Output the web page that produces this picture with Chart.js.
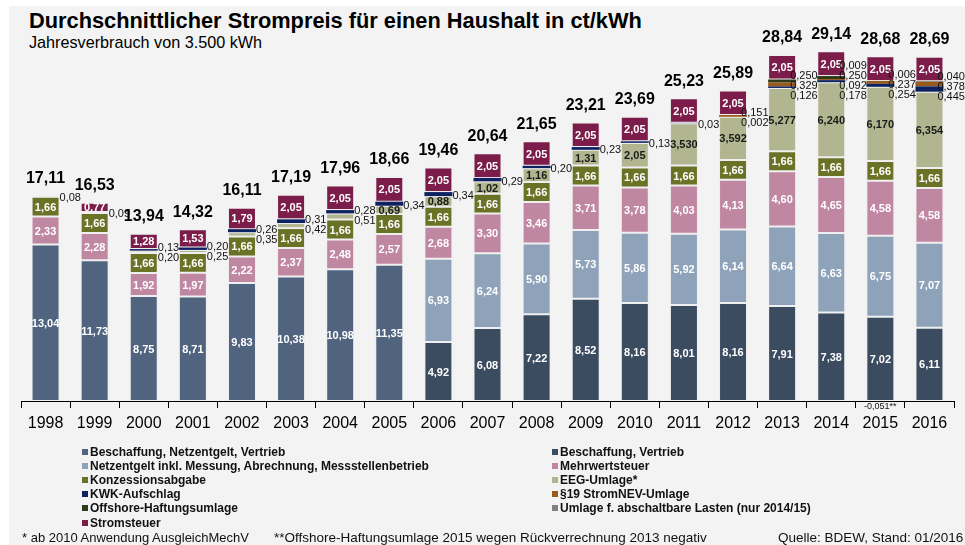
<!DOCTYPE html>
<html>
<head>
<meta charset="utf-8">
<script src="https://cdn.jsdelivr.net/npm/chart.js@4.4.1/dist/chart.umd.min.js"></script>
<style>
  html, body { margin:0; padding:0; background:#ffffff; width:965px; height:545px; overflow:hidden; font-family:"Liberation Sans", Arial, sans-serif; }
  #panel { position:absolute; left:9px; top:6px; width:956px; height:539px; background:#f3f3f3; }
  #c { position:absolute; left:0; top:0; }
  .t { position:absolute; white-space:nowrap; color:#000; line-height:1; }
  #title { left:29px; top:10px; font-size:21.8px; font-weight:bold; }
  #subtitle { left:29px; top:34px; font-size:16.2px; }
  .lg { position:absolute; white-space:nowrap; font-size:12px; font-weight:bold; color:#111; line-height:14px; height:14px; }
  .lg i { display:inline-block; width:6px; height:6px; margin-right:2px; vertical-align:1px; }
  .fn { position:absolute; white-space:nowrap; font-size:13px; color:#111; line-height:1; top:531px; }
</style>
</head>
<body>
<div id="panel"></div>
<div class="t" id="title">Durchschnittlicher Strompreis für einen Haushalt in ct/kWh</div>
<div class="t" id="subtitle">Jahresverbrauch von 3.500 kWh</div>
<canvas id="c" width="965" height="545"></canvas>
<div id="legend"></div>
<div class="fn" style="left:22px;">* ab 2010 Anwendung AusgleichMechV</div>
<div class="fn" style="left:274px; font-size:13.5px;">**Offshore-Haftungsumlage 2015 wegen Rückverrechnung 2013 negativ</div>
<div class="fn" style="left:778px; font-size:13.5px;">Quelle: BDEW, Stand: 01/2016</div>
<script>
// ---------- data ----------
const years = ['1998','1999','2000','2001','2002','2003','2004','2005','2006','2007','2008','2009','2010','2011','2012','2013','2014','2015','2016'];
const totals = [17.11, 16.53, 13.94, 14.32, 16.11, 17.19, 17.96, 18.66, 19.46, 20.64, 21.65, 23.21, 23.69, 25.23, 25.89, 28.84, 29.14, 28.68, 28.69];

const beschaffungNetzVertrieb = [13.04, 11.73, 8.75, 8.71, 9.83, 10.38, 10.98, 11.35, null, null, null, null, null, null, null, null, null, null, null];
const beschaffungVertrieb     = [null, null, null, null, null, null, null, null, 4.92, 6.08, 7.22, 8.52, 8.16, 8.01, 8.16, 7.91, 7.38, 7.02, 6.11];
const netzentgelt             = [null, null, null, null, null, null, null, null, 6.93, 6.24, 5.90, 5.73, 5.86, 5.92, 6.14, 6.64, 6.63, 6.75, 7.07];
const mehrwertsteuer          = [2.33, 2.28, 1.92, 1.97, 2.22, 2.37, 2.48, 2.57, 2.68, 3.30, 3.46, 3.71, 3.78, 4.03, 4.13, 4.60, 4.65, 4.58, 4.58];
const konzessionsabgabe       = [1.66, 1.66, 1.66, 1.66, 1.66, 1.66, 1.66, 1.66, 1.66, 1.66, 1.66, 1.66, 1.66, 1.66, 1.66, 1.66, 1.66, 1.66, 1.66];
const eegUmlage               = [0.08, 0.09, 0.20, 0.25, 0.35, 0.42, 0.51, 0.69, 0.88, 1.02, 1.16, 1.31, 2.05, 3.530, 3.592, 5.277, 6.240, 6.170, 6.354];
const kwkAufschlag            = [null, null, 0.13, 0.20, 0.26, 0.31, 0.28, 0.34, 0.34, 0.29, 0.20, 0.23, 0.13, 0.03, 0.002, 0.126, 0.178, 0.254, 0.445];
const stromNevUmlage          = [null, null, null, null, null, null, null, null, null, null, null, null, null, null, 0.151, 0.329, 0.092, 0.237, 0.378];
const offshoreUmlage          = [null, null, null, null, null, null, null, null, null, null, null, null, null, null, null, 0.250, 0.250, -0.051, 0.040];
const abschaltbareLasten      = [null, null, null, null, null, null, null, null, null, null, null, null, null, null, null, null, 0.009, 0.006, null];
const stromsteuer             = [null, 0.77, 1.28, 1.53, 1.79, 2.05, 2.05, 2.05, 2.05, 2.05, 2.05, 2.05, 2.05, 2.05, 2.05, 2.05, 2.05, 2.05, 2.05];

// index of first year shown with three decimals (null = never)
const threeDecFrom = { eeg: 13, small: 14 };

const series = [
  { label:'Beschaffung, Netzentgelt, Vertrieb', data: beschaffungNetzVertrieb, color:'#50647f', text:'#ffffff', dec3:null },
  { label:'Beschaffung, Vertrieb', data: beschaffungVertrieb, color:'#3b4b60', text:'#ffffff', dec3:null },
  { label:'Netzentgelt inkl. Messung, Abrechnung, Messstellenbetrieb', data: netzentgelt, color:'#8ea2ba', text:'#ffffff', dec3:null },
  { label:'Mehrwertsteuer', data: mehrwertsteuer, color:'#c087a2', text:'#ffffff', dec3:null },
  { label:'Konzessionsabgabe', data: konzessionsabgabe, color:'#6a7226', text:'#ffffff', dec3:null },
  { label:'EEG-Umlage*', data: eegUmlage, color:'#b2b690', text:'#1a1a1a', dec3:threeDecFrom.eeg },
  { label:'KWK-Aufschlag', data: kwkAufschlag, color:'#0e2262', text:'#ffffff', dec3:threeDecFrom.small },
  { label:'§19 StromNEV-Umlage', data: stromNevUmlage, color:'#9a5a1c', text:'#ffffff', dec3:threeDecFrom.small },
  { label:'Offshore-Haftungsumlage', data: offshoreUmlage, color:'#2e3a19', text:'#ffffff', dec3:threeDecFrom.small },
  { label:'Umlage f. abschaltbare Lasten (nur 2014/15)', data: abschaltbareLasten, color:'#808080', text:'#ffffff', dec3:threeDecFrom.small },
  { label:'Stromsteuer', data: stromsteuer, color:'#7c1c4a', text:'#ffffff', dec3:null }
];

// legend layout order (left column, right column)
const legendLeft  = [0, 2, 4, 6, 8, 10];
const legendRight = [1, 3, 5, 7, 9];

function fmt(v, dec) { return v.toFixed(dec).replace('.', ','); }

// ---------- legend (HTML) ----------
(function(){
  const lg = document.getElementById('legend');
  const add = (idx, col, row) => {
    const s = series[idx];
    const d = document.createElement('div');
    d.className = 'lg';
    d.style.left = (col === 0 ? 82 : 552) + 'px';
    d.style.top = (445 + row * 14.1) + 'px';
    d.innerHTML = '<i style="background:' + s.color + '"></i>' + s.label;
    lg.appendChild(d);
  };
  legendLeft.forEach((idx, r) => add(idx, 0, r));
  legendRight.forEach((idx, r) => add(idx, 1, r));
})();

// ---------- labels plugin ----------
const segLabels = {
  id: 'segLabels',
  afterDatasetsDraw(chart) {
    const ctx = chart.ctx;
    const ys = chart.scales.y;
    ctx.save();
    years.forEach((yr, i) => {
      const small = [];
      let bx = null, bw = null;
      chart.data.datasets.forEach((ds, d) => {
        const v = ds.data[i];
        if (v === null || v === undefined) return;
        const el = chart.getDatasetMeta(d).data[i];
        const p = el.getProps(['x', 'y', 'base', 'width'], true);
        bx = p.x; bw = p.width;
        const s = series[d];
        const dec = (s.dec3 !== null && i >= s.dec3) ? 3 : 2;
        const txt = fmt(v, dec);
        if (v < 0) {
          ctx.font = '9px "Liberation Sans", Arial, sans-serif';
          ctx.fillStyle = '#111';
          ctx.textAlign = 'center';
          ctx.textBaseline = 'middle';
          ctx.fillText(txt + '**', p.x, ys.getPixelForValue(0) + 6);
        } else if (v >= 0.6) {
          ctx.font = 'bold 11px "Liberation Sans", Arial, sans-serif';
          ctx.fillStyle = s.text;
          ctx.textAlign = 'center';
          ctx.textBaseline = 'middle';
          ctx.fillText(txt, p.x, (p.y + p.base) / 2 + 1);
        } else {
          small.push({ txt, cy: (p.y + p.base) / 2, dec });
        }
      });
      if (small.length) {
        const mean = small.reduce((a, b) => a + b.cy, 0) / small.length + 2;
        const n = small.length;
        ctx.font = '11px "Liberation Sans", Arial, sans-serif';
        ctx.fillStyle = '#111';
        ctx.textAlign = 'left';
        ctx.textBaseline = 'middle';
        small.reverse().forEach((s, k) => {
          const yy = mean - (n - 1) * 5 + k * 10;
          const xx = bx + bw / 2 + (s.dec === 3 ? -6 : 0);
          ctx.fillText(s.txt, xx, yy);
        });
      }
      // total
      ctx.font = 'bold 16px "Liberation Sans", Arial, sans-serif';
      ctx.fillStyle = '#000';
      ctx.textAlign = 'center';
      ctx.textBaseline = 'middle';
      ctx.fillText(fmt(totals[i], 2), bx, ys.getPixelForValue(totals[i]) - 17);
    });
    ctx.restore();
  }
};

// ---------- chart ----------
const datasets = series.map((s, d) => ({
  label: s.label,
  data: s.data,
  backgroundColor: s.color,
  borderColor: 'rgba(235,235,235,0.55)',
  borderWidth: (d <= 5 || d === 10) ? 1 : 0,
  borderSkipped: false,
  barPercentage: 0.57,
  categoryPercentage: 1.0
}));

new Chart(document.getElementById('c'), {
  type: 'bar',
  data: { labels: years, datasets },
  options: {
    responsive: false,
    animation: false,
    devicePixelRatio: 1,
    layout: { padding: { left: 21, right: 11, top: 41, bottom: 114 } },
    plugins: { legend: { display: false }, tooltip: { enabled: false }, title: { display: false } },
    scales: {
      x: {
        stacked: true,
        offset: true,
        grid: { offset: true, display: true, drawOnChartArea: false, drawTicks: true, tickLength: 7, color: '#000', lineWidth: 1 },
        border: { display: true, color: '#000', width: 1 },
        ticks: { color: '#000', font: { size: 16, family: '"Liberation Sans", Arial, sans-serif' }, padding: 6, maxRotation: 0, autoSkip: false },
        afterFit(scale) { scale.height = 30; }
      },
      y: {
        stacked: true,
        display: false,
        min: 0,
        max: 30
      }
    }
  },
  plugins: [segLabels]
});
</script>
</body>
</html>
